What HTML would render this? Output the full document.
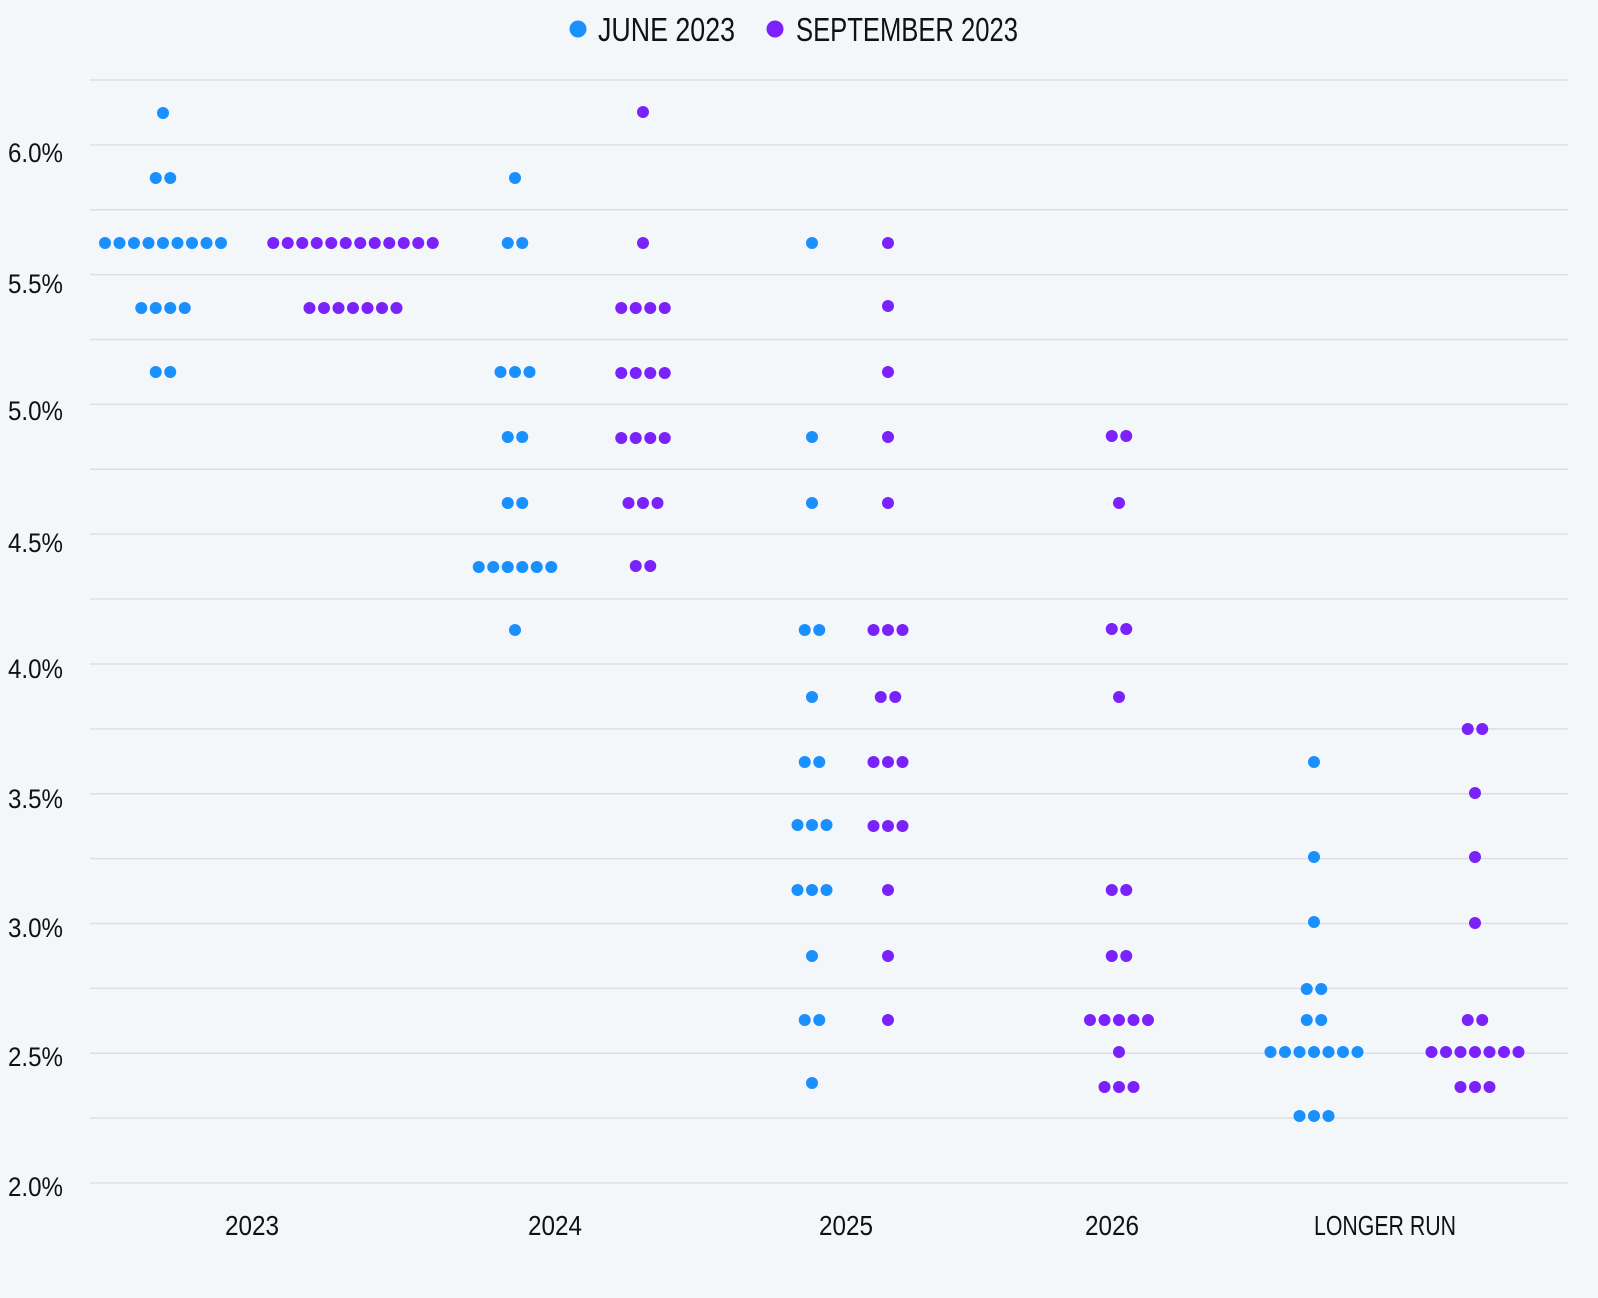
<!DOCTYPE html>
<html><head><meta charset="utf-8"><style>
html,body{margin:0;padding:0;background:#f4f7fa;}
svg{display:block;}
text{font-family:"Liberation Sans Narrow","Liberation Sans",sans-serif;fill:#111;}
</style></head><body>
<svg id="c" width="1598" height="1298" viewBox="0 0 1598 1298" xmlns="http://www.w3.org/2000/svg">
<rect width="1598" height="1298" fill="#f4f7fa"/>
<g id="grid" stroke="#dcdfe3" stroke-width="1.5"></g>
<g font-size="27" text-anchor="end">
<text x="63" y="162" textLength="55" lengthAdjust="spacingAndGlyphs">6.0%</text>
<text x="63" y="293" textLength="55" lengthAdjust="spacingAndGlyphs">5.5%</text>
<text x="63" y="420" textLength="55" lengthAdjust="spacingAndGlyphs">5.0%</text>
<text x="63" y="552" textLength="55" lengthAdjust="spacingAndGlyphs">4.5%</text>
<text x="63" y="678" textLength="55" lengthAdjust="spacingAndGlyphs">4.0%</text>
<text x="63" y="808" textLength="55" lengthAdjust="spacingAndGlyphs">3.5%</text>
<text x="63" y="937" textLength="55" lengthAdjust="spacingAndGlyphs">3.0%</text>
<text x="63" y="1066" textLength="55" lengthAdjust="spacingAndGlyphs">2.5%</text>
<text x="63" y="1196" textLength="55" lengthAdjust="spacingAndGlyphs">2.0%</text>
</g>
<g font-size="28" text-anchor="middle">
<text x="252" y="1235" textLength="54" lengthAdjust="spacingAndGlyphs">2023</text>
<text x="555" y="1235" textLength="54" lengthAdjust="spacingAndGlyphs">2024</text>
<text x="846" y="1235" textLength="54" lengthAdjust="spacingAndGlyphs">2025</text>
<text x="1112" y="1235" textLength="54" lengthAdjust="spacingAndGlyphs">2026</text>
<text x="1385" y="1235" textLength="142" lengthAdjust="spacingAndGlyphs">LONGER RUN</text>
</g>
<circle cx="578" cy="29" r="8.5" fill="#1a90ff"/>
<text x="598" y="41" font-size="33" textLength="137" lengthAdjust="spacingAndGlyphs">JUNE 2023</text>
<circle cx="775" cy="29" r="8.5" fill="#7b22fa"/>
<text x="796" y="41" font-size="33" textLength="222" lengthAdjust="spacingAndGlyphs">SEPTEMBER 2023</text>
<g id="dots"></g>
</svg>
<script>
var ns="http://www.w3.org/2000/svg";
var g=document.getElementById("grid");
for(var i=0;i<18;i++){var y=80+i*(1183-80)/17;var l=document.createElementNS(ns,"line");
l.setAttribute("x1",90);l.setAttribute("x2",1568);l.setAttribute("y1",y);l.setAttribute("y2",y);g.appendChild(l);}
var B="#1a90ff",P="#7b22fa";
var rows=[
[B,163,[[113,1],[178,2],[243,9],[308,4],[372,2]]],
[P,353,[[243,12],[308,7]]],
[B,515,[[178,1],[243,2],[372,3],[437,2],[503,2],[567,6],[630,1]]],
[P,643,[[112,1],[243,1],[308,4],[373,4],[438,4],[503,3],[566,2]]],
[B,812,[[243,1],[437,1],[503,1],[630,2],[697,1],[762,2],[825,3],[890,3],[956,1],[1020,2],[1083,1]]],
[P,888,[[243,1],[306,1],[372,1],[437,1],[503,1],[630,3],[697,2],[762,3],[826,3],[890,1],[956,1],[1020,1]]],
[P,1119,[[436,2],[503,1],[629,2],[697,1],[890,2],[956,2],[1020,5],[1052,1],[1087,3]]],
[B,1314,[[762,1],[857,1],[922,1],[989,2],[1020,2],[1052,7],[1116,3]]],
[P,1475,[[729,2],[793,1],[857,1],[923,1],[1020,2],[1052,7],[1087,3]]]
];
var d=document.getElementById("dots"),s=14.5;
rows.forEach(function(r){r[2].forEach(function(q){var n=q[1];for(var k=0;k<n;k++){
var c=document.createElementNS(ns,"circle");c.setAttribute("cx",r[1]+(k-(n-1)/2)*s);
c.setAttribute("cy",q[0]);c.setAttribute("r",6);c.setAttribute("fill",r[0]);d.appendChild(c);}});});
</script>
</body></html>
